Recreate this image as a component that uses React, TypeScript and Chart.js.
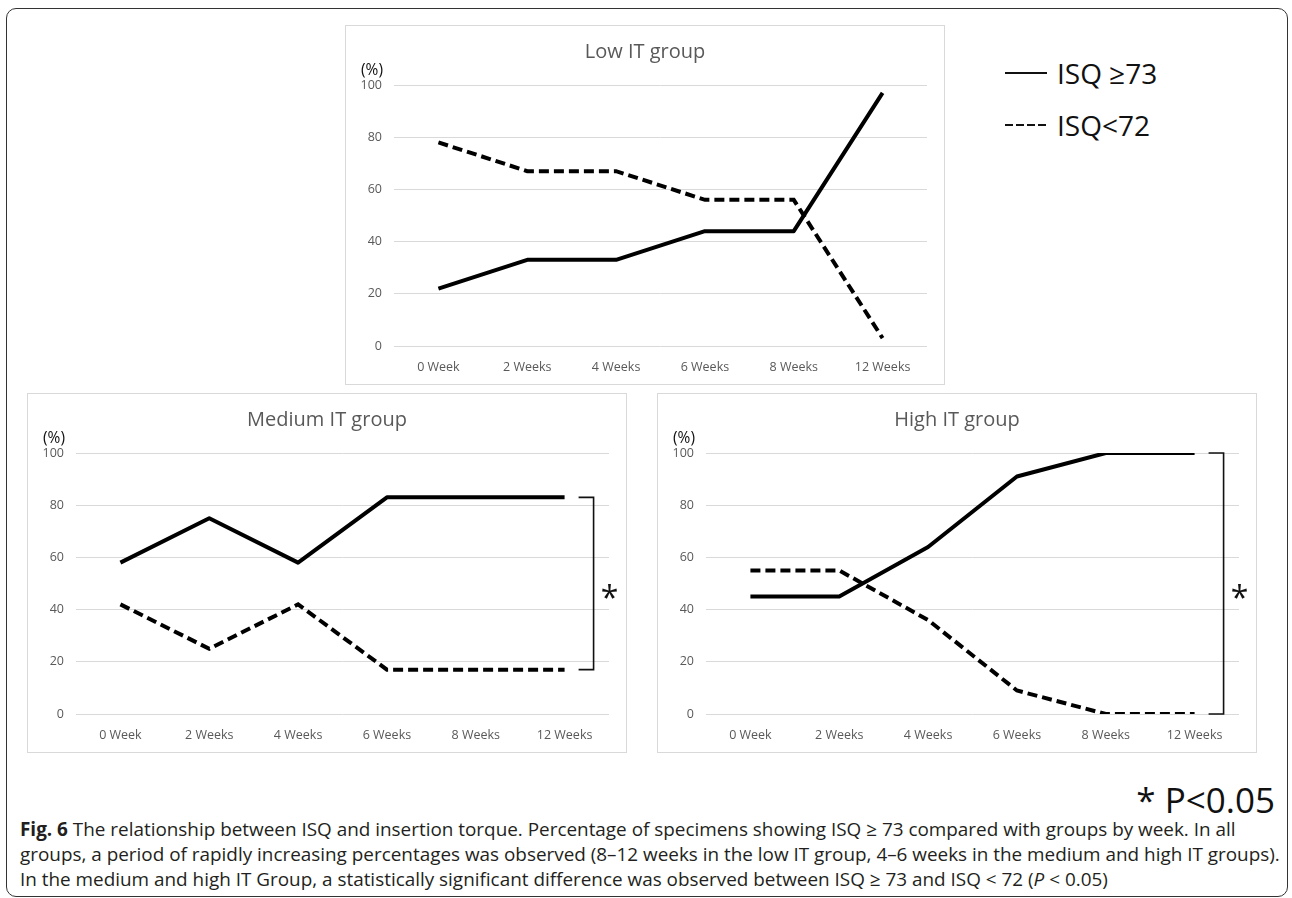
import React, { useEffect, useRef } from "react";
import { Chart, registerables } from "chart.js";

Chart.register(...registerables);

// Weeks after placement, shared by all three panels
const weeks = ["0 Week", "2 Weeks", "4 Weeks", "6 Weeks", "8 Weeks", "12 Weeks"];
const seriesLabels = ["ISQ ≥73", "ISQ<72"];

// Percentage of specimens per group (solid: ISQ ≥73, dashed: ISQ<72)
const lowAbove = [22, 33, 33, 44, 44, 97];
const lowBelow = [78, 67, 67, 56, 56, 3];
const mediumAbove = [58, 75, 58, 83, 83, 83];
const mediumBelow = [42, 25, 42, 17, 17, 17];
const highAbove = [45, 45, 64, 91, 100, 100];
const highBelow = [55, 55, 36, 9, 0, 0];

const FONT = "'Open Sans', 'DejaVu Sans', sans-serif";
const GRID = "#d9d9d9";
const TICK = "#595959";

// Draws the panel title, the "(%)" unit and the significance bracket
const panelDecor = {
  id: "panelDecor",
  afterDatasetsDraw(chart: any, _args: any, opts: any) {
    const { ctx, scales } = chart;
    ctx.save();
    ctx.textAlign = "center";
    ctx.textBaseline = "middle";
    ctx.fillStyle = TICK;
    ctx.font = `20px ${FONT}`;
    ctx.fillText(opts.title, chart.width / 2, 26);
    ctx.fillStyle = "#111";
    ctx.font = `15.5px ${FONT}`;
    ctx.fillText("(%)", 26, 45);

    if (opts.bracket) {
      const sets = chart.data.datasets;
      const last = chart.data.labels.length - 1;
      const a = sets[0].data[last];
      const b = sets[1].data[last];
      const x0 = scales.x.getPixelForValue(last);
      const yTop = scales.y.getPixelForValue(Math.max(a, b));
      const yBot = scales.y.getPixelForValue(Math.min(a, b));
      const xs = x0 + 14;
      const xv = x0 + 29;
      ctx.strokeStyle = "#111";
      ctx.lineWidth = 1.6;
      ctx.beginPath();
      ctx.moveTo(xs, yTop);
      ctx.lineTo(xv, yTop);
      ctx.lineTo(xv, yBot);
      ctx.lineTo(xs, yBot);
      ctx.stroke();
      ctx.fillStyle = "#111";
      ctx.font = `32px ${FONT}`;
      ctx.fillText("*", xv + 16, (yTop + yBot) / 2 + 16);
    }
    ctx.restore();
  },
};

type PanelProps = {
  title: string;
  above: number[];
  below: number[];
  bracket: boolean;
  left: number;
  top: number;
};

function Panel({ title, above, below, bracket, left, top }: PanelProps) {
  const ref = useRef<HTMLCanvasElement | null>(null);

  useEffect(() => {
    if (!ref.current) return;
    const tickFont = { family: FONT, size: 12.5 };
    const chart = new Chart(ref.current, {
      type: "line",
      data: {
        labels: weeks,
        datasets: [
          {
            label: seriesLabels[0],
            data: above,
            borderColor: "#000",
            borderWidth: 4,
            pointRadius: 0,
            tension: 0,
            borderJoinStyle: "round",
          },
          {
            label: seriesLabels[1],
            data: below,
            borderColor: "#000",
            borderWidth: 4,
            borderDash: [10, 5],
            pointRadius: 0,
            tension: 0,
          },
        ],
      },
      options: {
        animation: false,
        responsive: true,
        maintainAspectRatio: false,
        layout: { padding: { top: 59, right: 17, left: 0, bottom: 0 } },
        plugins: {
          legend: { display: false },
          tooltip: { enabled: false },
          panelDecor: { title, bracket },
        } as any,
        scales: {
          x: {
            offset: true,
            grid: { display: false, drawTicks: false },
            border: { display: false },
            ticks: {
              color: TICK,
              font: tickFont,
              padding: 14,
              maxRotation: 0,
              autoSkip: false,
            },
            afterFit: (s: any) => {
              s.height = 38;
            },
          },
          y: {
            min: 0,
            max: 100,
            ticks: { stepSize: 20, color: TICK, font: tickFont, padding: 12 },
            grid: { color: GRID, lineWidth: 1, drawTicks: false },
            border: { display: false },
            afterFit: (s: any) => {
              s.width = 48;
            },
          },
        },
      },
      plugins: [panelDecor],
    } as any);
    return () => chart.destroy();
  }, [title, above, below, bracket]);

  return (
    <div
      style={{
        position: "absolute",
        left,
        top,
        width: 600,
        height: 360,
        border: `1px solid ${GRID}`,
        boxSizing: "border-box",
        background: "#fff",
      }}
    >
      <canvas ref={ref} />
    </div>
  );
}

export default function App() {
  const legendText: React.CSSProperties = {
    position: "absolute",
    left: 1057,
    fontSize: 28,
    lineHeight: "36px",
    color: "#111",
    whiteSpace: "nowrap",
  };
  const captionLine: React.CSSProperties = {
    whiteSpace: "nowrap",
    height: 25,
    lineHeight: "25px",
  };
  return (
    <div
      style={{
        position: "absolute",
        left: 0,
        top: 0,
        width: 1292,
        height: 898,
        overflow: "hidden",
        background: "#fff",
        fontFamily: FONT,
      }}
    >
      <div
        style={{
          position: "absolute",
          left: 6,
          top: 8,
          width: 1282,
          height: 889,
          border: "1.5px solid #333",
          borderRadius: 10,
          boxSizing: "border-box",
        }}
      />

      <Panel title="Low IT group" above={lowAbove} below={lowBelow} bracket={false} left={345} top={25} />
      <Panel title="Medium IT group" above={mediumAbove} below={mediumBelow} bracket={true} left={27} top={393} />
      <Panel title="High IT group" above={highAbove} below={highBelow} bracket={true} left={657} top={393} />

      {/* Legend */}
      <div style={{ position: "absolute", left: 1005, top: 72, width: 42, height: 2, background: "#111" }} />
      <div style={{ ...legendText, top: 55 }}>{seriesLabels[0]}</div>
      {[0, 1, 2, 3].map((i) => (
        <div
          key={i}
          style={{ position: "absolute", left: 1005 + i * 11, top: 124, width: 8, height: 2, background: "#111" }}
        />
      ))}
      <div style={{ ...legendText, top: 107 }}>{seriesLabels[1]}</div>

      <div
        style={{
          position: "absolute",
          right: 17,
          top: 778,
          fontSize: 35,
          lineHeight: "44px",
          color: "#111",
          whiteSpace: "nowrap",
        }}
      >
        * P&lt;0.05
      </div>

      <div
        style={{
          position: "absolute",
          left: 20,
          top: 817,
          fontSize: 18.9,
          color: "#231f20",
        }}
      >
        <div style={captionLine}>
          <b>Fig. 6</b> The relationship between ISQ and insertion torque. Percentage of specimens showing ISQ ≥ 73
          compared with groups by week. In all
        </div>
        <div style={captionLine}>
          groups, a period of rapidly increasing percentages was observed (8–12 weeks in the low IT group, 4–6 weeks in
          the medium and high IT groups).
        </div>
        <div style={captionLine}>
          In the medium and high IT Group, a statistically significant difference was observed between ISQ ≥ 73 and ISQ
          &lt; 72 (<i>P</i> &lt; 0.05)
        </div>
      </div>
    </div>
  );
}
